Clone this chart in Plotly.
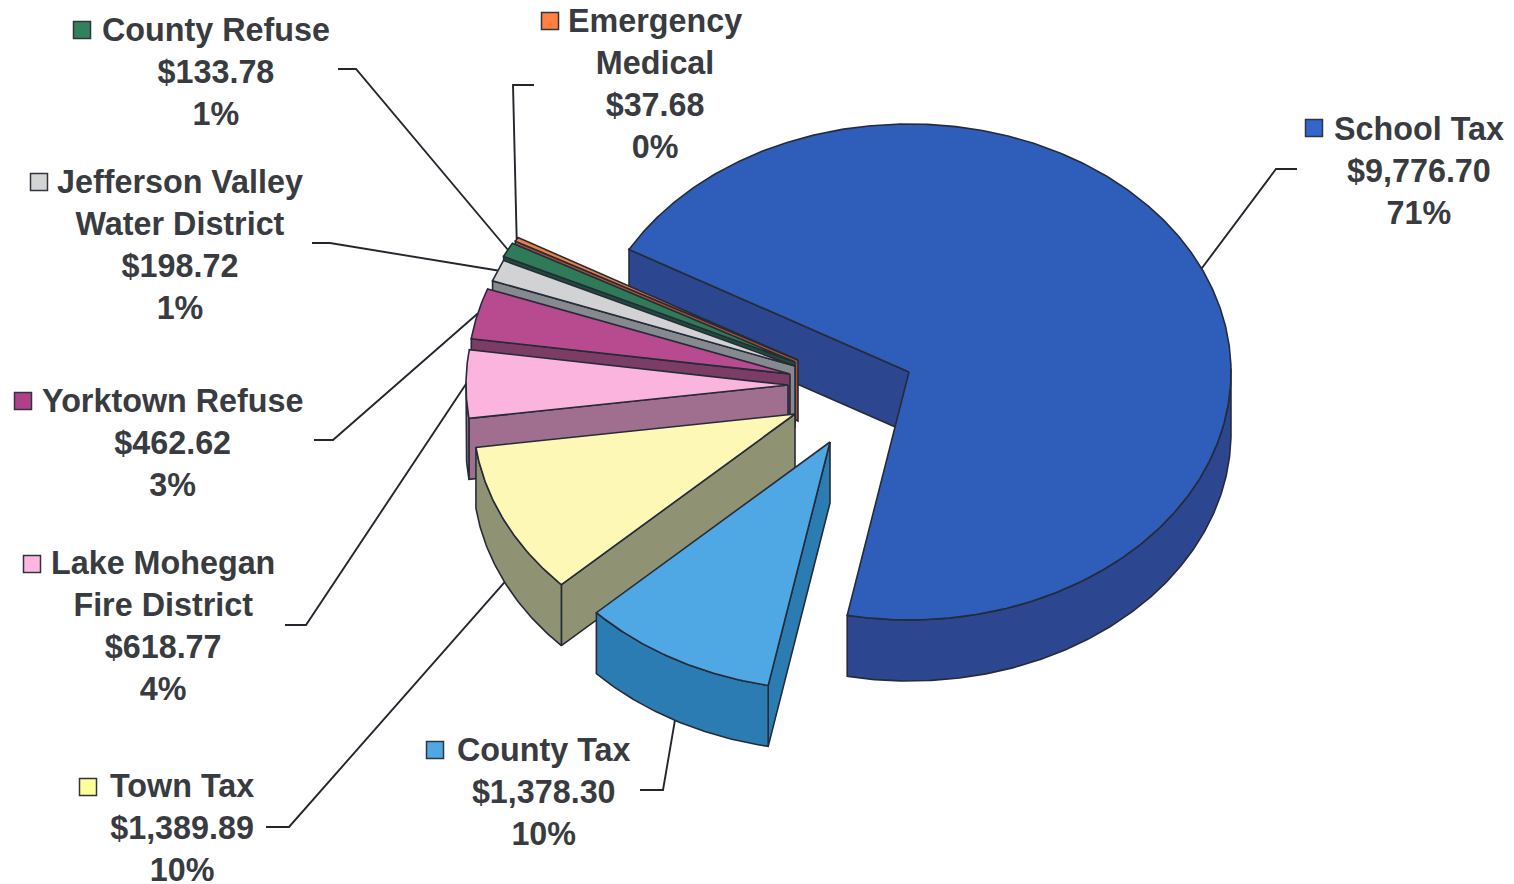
import numpy as np
import plotly.graph_objects as go

# Tax bill breakdown, clockwise from the largest slice
categories = ["School Tax", "County Tax", "Town Tax", "Lake Mohegan Fire District",
              "Yorktown Refuse", "Jefferson Valley Water District", "County Refuse",
              "Emergency Medical"]
amounts = [9776.70, 1378.30, 1389.89, 618.77, 462.62, 198.72, 133.78, 37.68]
percent_labels = ["71%", "10%", "10%", "4%", "3%", "1%", "1%", "0%"]
label_lines = [["School Tax"], ["County Tax"], ["Town Tax"], ["Lake Mohegan", "Fire District"],
               ["Yorktown Refuse"], ["Jefferson Valley", "Water District"], ["County Refuse"],
               ["Emergency", "Medical"]]

# Slice styling
top_colors = ["#2f5dba", "#4fa7e3", "#fdf8b6", "#fbb4dd", "#b84b90", "#d2d2d4", "#2f7a58", "#ef7f48"]
wall_colors = ["#2d4690", "#2a7cb2", "#8f9373", "#a06f90", "#7b3c65", "#868a90", "#1f4c3a", "#a5522f"]
key_colors = ["#3366cc", "#4fa7e3", "#ffff99", "#ffb6e0", "#b0408a", "#d4d4d4", "#33805c", "#ff8040"]

# Projected pie geometry in plot units
PIE_CENTER = (850.0, 388.0)
RX, RY = 322.0, 248.0
DEPTH = 61.0
START_ANGLE = 299.6
EXPLODE = [(59, -16), (-20, 54), (-55, 26), (-62, -3), (-60, -14), (-55, -22), (-55, -26), (-52, -28)]

# Label placement: block centre, legend key, leader elbow and leader start
LABEL_CENTER = [(1419, 171), (543, 792), (182, 828), (163, 626),
                (172, 443), (180, 245), (216, 72), (655, 84)]
KEY_POS = [(1314, 128), (435, 750), (88, 787), (32, 564),
           (23, 401), (39, 182), (82, 30), (550, 21)]
LEADER_ELBOW = [(1276, 169), (663, 790), (289, 827), (306, 625),
                (333, 440), (330, 243), (356, 69), (513, 85)]
LEADER_START = [(1297, 169), (640, 790), (266, 827), (285, 625),
                (314, 440), (312, 243), (338, 69), (534, 85)]

TEXT_COLOR = "#383b40"
EDGE = "#262b38"

fractions = np.array(amounts) / sum(amounts)
spans = fractions * 360
starts = START_ANGLE + np.concatenate([[0], np.cumsum(spans)[:-1]])


def rim(cx, cy, deg):
    rad = np.radians(deg)
    return cx + RX * np.sin(rad), cy - RY * np.cos(rad)


fig = go.Figure()


def polygon(xs, ys, fill, width=1.6):
    fig.add_trace(go.Scatter(x=list(xs), y=list(ys), mode="lines", fill="toself",
                             fillcolor=fill, line=dict(color=EDGE, width=width),
                             hoverinfo="skip", showlegend=False))


anchors = []
# School Tax sits at the back, the others stack from the top of the fan to the front
for i in [0, 7, 6, 5, 4, 3, 2, 1]:
    cx = PIE_CENTER[0] + EXPLODE[i][0]
    cy = PIE_CENTER[1] + EXPLODE[i][1]
    angles = np.linspace(starts[i], starts[i] + spans[i], max(6, int(spans[i] * 2)))
    ax, ay = rim(cx, cy, angles)

    # radial walls that face the viewer
    if np.sin(np.radians(angles[0])) < 0:
        polygon([cx, ax[0], ax[0], cx, cx],
                [cy, ay[0], ay[0] + DEPTH, cy + DEPTH, cy], wall_colors[i])
    if np.sin(np.radians(angles[-1])) > 0:
        polygon([cx, ax[-1], ax[-1], cx, cx],
                [cy, ay[-1], ay[-1] + DEPTH, cy + DEPTH, cy], wall_colors[i])

    # outer wall, front half of the rim only
    front = np.cos(np.radians(angles)) < 0.02
    if front.any():
        fx, fy = ax[front], ay[front]
        polygon(np.concatenate([fx, fx[::-1], fx[:1]]),
                np.concatenate([fy, fy[::-1] + DEPTH, fy[:1]]), wall_colors[i])

    # top face
    polygon(np.concatenate([[cx], ax, [cx]]), np.concatenate([[cy], ay, [cy]]), top_colors[i])

    mid = starts[i] + spans[i] / 2
    mx, my = rim(cx, cy, mid)
    if np.cos(np.radians(mid)) < -0.02:
        my += DEPTH
    anchors.append((i, mx, my))

# Leader lines run from each label to the middle of its slice's rim
for i, mx, my in anchors:
    fig.add_trace(go.Scatter(
        x=[LEADER_START[i][0], LEADER_ELBOW[i][0], mx],
        y=[LEADER_START[i][1], LEADER_ELBOW[i][1], my],
        mode="lines", line=dict(color="#23262c", width=1.9),
        hoverinfo="skip", showlegend=False))

# Legend keys
fig.add_trace(go.Scatter(
    x=[p[0] for p in KEY_POS], y=[p[1] for p in KEY_POS], mode="markers",
    marker=dict(symbol="square", size=17, color=key_colors,
                line=dict(color="#30343c", width=1.5)),
    hoverinfo="skip", showlegend=False))

# Data labels
for i, lines in enumerate(label_lines):
    text = "<br>".join(lines + [f"${amounts[i]:,.2f}", percent_labels[i]])
    fig.add_annotation(x=LABEL_CENTER[i][0], y=LABEL_CENTER[i][1], text=text, showarrow=False,
                       xanchor="center", yanchor="middle", align="center",
                       font=dict(family="Liberation Sans", size=32.3, color=TEXT_COLOR, weight=700))

fig.update_layout(
    width=1514, height=884, margin=dict(l=0, r=0, t=0, b=0),
    paper_bgcolor="white", plot_bgcolor="white", showlegend=False,
    xaxis=dict(range=[0, 1514], visible=False, fixedrange=True),
    yaxis=dict(range=[884, 0], visible=False, fixedrange=True),
)

fig.write_html("out.html")
